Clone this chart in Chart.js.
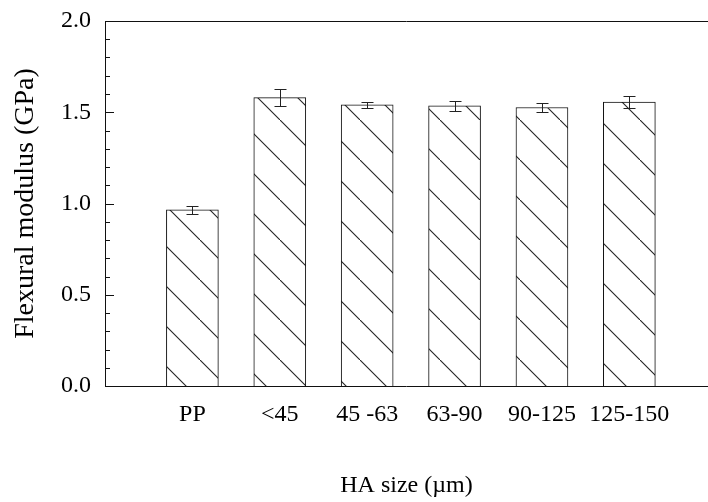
<!DOCTYPE html>
<html>
<head>
<meta charset="utf-8">
<script src="https://cdn.jsdelivr.net/npm/chart.js@4/dist/chart.umd.min.js"></script>
<style>
html,body{margin:0;padding:0;background:#fff;overflow:hidden;}
#wrap{width:708px;height:502px;}
</style>
</head>
<body>
<div id="wrap"><canvas id="c" width="708" height="502"></canvas></div>
<script>
// Data
const categories = ['PP', '<45', '45 -63', '63-90', '90-125', '125-150'];
const modulus = [0.965, 1.58, 1.54, 1.535, 1.526, 1.556];
const modulusErr = [0.02, 0.045, 0.018, 0.028, 0.026, 0.033];
const yTicks = [0.0, 0.5, 1.0, 1.5, 2.0];

const serif = '"Liberation Serif", "Times New Roman", serif';

function hatchPattern() {
  const s = 40;
  const t = document.createElement('canvas');
  t.width = s; t.height = s;
  const g = t.getContext('2d');
  g.fillStyle = '#fff';
  g.fillRect(0, 0, s, s);
  g.strokeStyle = '#222';
  g.lineWidth = 1.1;
  g.beginPath();
  g.moveTo(-4, -4); g.lineTo(s + 4, s + 4);
  g.stroke();
  return document.getElementById('c').getContext('2d').createPattern(t, 'repeat');
}

const framePlugin = {
  id: 'frame',
  afterDatasetsDraw(chart) {
    const ctx = chart.ctx;
    const a = chart.chartArea;
    const y = chart.scales.y;
    const x = chart.scales.x;
    ctx.save();
    ctx.strokeStyle = '#111';
    ctx.lineWidth = 1;
    ctx.beginPath();
    ctx.moveTo(a.left + 0.5, a.top);
    ctx.lineTo(a.left + 0.5, a.bottom);
    ctx.moveTo(a.left, a.bottom + 0.5);
    ctx.lineTo(a.right, a.bottom + 0.5);
    ctx.moveTo(a.left, a.top + 0.5);
    ctx.lineTo(a.right, a.top + 0.5);
    ctx.stroke();
    ctx.beginPath();
    for (let i = 0; i <= 20; i++) {
      const v = i / 10;
      const py = Math.round(y.getPixelForValue(v)) + 0.5;
      const len = (i % 5 === 0) ? 9 : 5;
      ctx.moveTo(a.left, py);
      ctx.lineTo(a.left + len, py);
    }
    ctx.stroke();
    ctx.strokeStyle = '#222';
    ctx.beginPath();
    modulus.forEach((m, i) => {
      const px = Math.round(x.getPixelForValue(i + 1)) + 0.5;
      const yt = Math.round(y.getPixelForValue(m + modulusErr[i])) + 0.5;
      const yb = Math.round(y.getPixelForValue(m - modulusErr[i])) + 0.5;
      ctx.moveTo(px, yt); ctx.lineTo(px, yb);
      ctx.moveTo(px - 6, yt); ctx.lineTo(px + 6, yt);
      ctx.moveTo(px - 6, yb); ctx.lineTo(px + 6, yb);
    });
    ctx.stroke();
    ctx.restore();
  }
};

new Chart(document.getElementById('c'), {
  type: 'bar',
  data: {
    datasets: [{
      data: modulus.map((v, i) => ({ x: i + 1, y: v })),
      backgroundColor: hatchPattern(),
      borderColor: '#111',
      borderWidth: 1,
      barThickness: 52
    }]
  },
  options: {
    responsive: false,
    animation: false,
    events: [],
    layout: { padding: { top: 21, right: 0, left: 0, bottom: 0 } },
    plugins: { legend: { display: false }, tooltip: { enabled: false } },
    scales: {
      x: {
        type: 'linear',
        min: 0,
        max: 6.9,
        offset: false,
        border: { display: false },
        grid: { display: false, drawTicks: false, offset: false },
        afterBuildTicks(scale) {
          scale.ticks = categories.map((c, i) => ({ value: i + 1 }));
        },
        afterFit(scale) { scale.height = 116; scale.paddingLeft = 0; scale.paddingRight = 0; },
        ticks: {
          autoSkip: false,
          maxRotation: 0,
          padding: 14,
          color: '#000',
          font: { family: serif, size: 24 },
          callback: (v) => categories[v - 1] ?? ''
        },
        title: {
          display: true,
          text: 'HA size (\u00b5m)',
          color: '#000',
          font: { family: serif, size: 24 },
          padding: { top: 0, bottom: 2 }
        }
      },
      y: {
        min: 0,
        max: 2.0,
        border: { display: false },
        grid: { display: false, drawTicks: false },
        afterBuildTicks(scale) {
          scale.ticks = yTicks.map(v => ({ value: v }));
        },
        afterFit(scale) { scale.width = 105; scale.paddingTop = 0; scale.paddingBottom = 0; },
        ticks: {
          padding: 14,
          color: '#000',
          font: { family: serif, size: 24 },
          callback: (v) => Number(v).toFixed(1)
        },
        title: {
          display: true,
          text: 'Flexural modulus (GPa)',
          color: '#000',
          font: { family: serif, size: 28 },
          padding: { top: 9, bottom: 0 }
        }
      }
    }
  },
  plugins: [framePlugin]
});
</script>
</body>
</html>
